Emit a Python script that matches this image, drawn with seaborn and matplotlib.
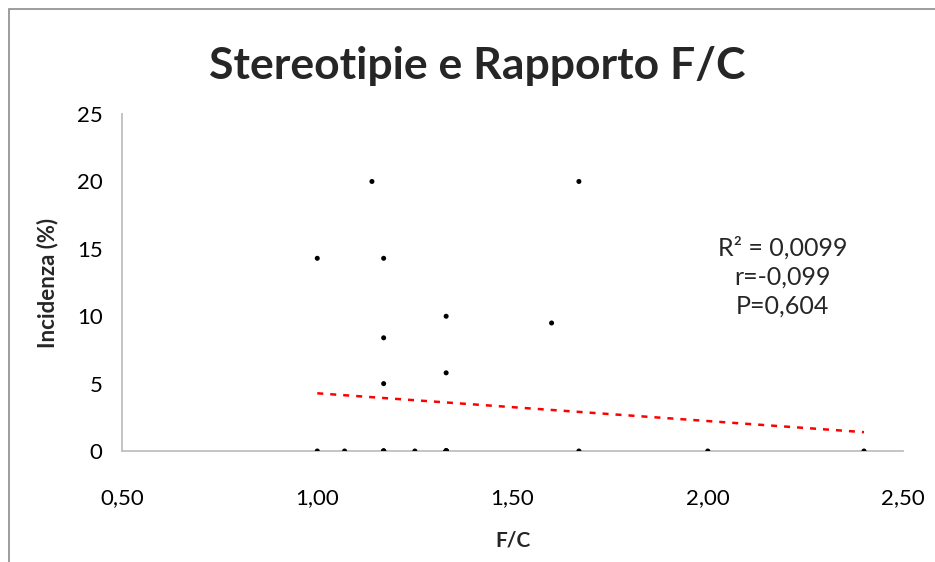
import matplotlib
matplotlib.use("Agg")
import matplotlib.pyplot as plt
import matplotlib.patches as mpatches
from matplotlib.ticker import FuncFormatter, MultipleLocator
import seaborn as sns
import pandas as pd

# F/C ratio and incidence (%) of stereotypies
# (zeros at 1,17 and 1,33 overlap several times, n = 30)
fc_ratio = [1.14, 1.00, 1.17, 1.33, 1.60, 1.17, 1.33, 1.17, 1.67,
            1.00, 1.07, 1.17, 1.17, 1.17, 1.17, 1.25,
            1.33, 1.33, 1.33, 1.33, 1.33, 1.33, 1.33, 1.33, 1.33, 1.33, 1.33,
            1.67, 2.00, 2.40]
incidenza = [20.0, 14.3, 14.3, 10.0, 9.5, 8.4, 5.8, 5.0, 20.0,
             0, 0, 0, 0, 0, 0, 0,
             0, 0, 0, 0, 0, 0, 0, 0, 0, 0, 0,
             0, 0, 0]
stats_text = "R² = 0,0099\nr=-0,099\nP=0,604"

df = pd.DataFrame({"fc": fc_ratio, "inc": incidenza})

sns.set_style("white")
plt.rcParams["font.family"] = ["Lato", "DejaVu Sans"]

fig = plt.figure(figsize=(9.35, 5.62), dpi=100)
ax = fig.add_axes([0.1305, 0.1975, 0.8353, 0.5995])

sns.regplot(data=df, x="fc", y="inc", scatter=False, ci=None, ax=ax,
            line_kws=dict(color="red", lw=1.8, ls=(0, (2.4, 2.8))))
sns.scatterplot(data=df, x="fc", y="inc", ax=ax, color="black", s=13,
                edgecolor="none", zorder=3)

ax.set_xlim(0.5, 2.5)
ax.set_ylim(0, 25)
ax.xaxis.set_major_locator(MultipleLocator(0.5))
ax.yaxis.set_major_locator(MultipleLocator(5))
ax.xaxis.set_major_formatter(FuncFormatter(lambda v, p: f"{v:.2f}".replace(".", ",")))
ax.yaxis.set_major_formatter(FuncFormatter(lambda v, p: f"{v:.0f}"))
ax.tick_params(axis="both", length=0, labelsize=16, colors="black")
ax.tick_params(axis="y", pad=14)
ax.tick_params(axis="x", pad=27)

for side in ["top", "right"]:
    ax.spines[side].set_visible(False)
for side in ["left", "bottom"]:
    ax.spines[side].set_color("#bfbfbf")
    ax.spines[side].set_linewidth(1.3)

ax.set_xlabel("F/C", fontsize=15, fontweight="bold", labelpad=16)
ax.set_ylabel("Incidenza (%)", fontsize=16, fontweight="bold", labelpad=13)

fig.text(0.51, 0.882, "Stereotipie e Rapporto F/C", ha="center", va="center",
         fontsize=32, fontweight="bold")
ax.text(0.8455, 0.516, stats_text, transform=ax.transAxes, ha="center",
        va="center", fontsize=18, linespacing=1.32)

# chart area border (cropped at right and bottom)
fig.patches.append(mpatches.Rectangle((9 / 935, -0.2), 1.2, 1 - 9 / 562 + 0.2,
                                      transform=fig.transFigure, fill=False,
                                      edgecolor="#8c8c8c", lw=1.2))

fig.savefig("out.png", dpi=100)
